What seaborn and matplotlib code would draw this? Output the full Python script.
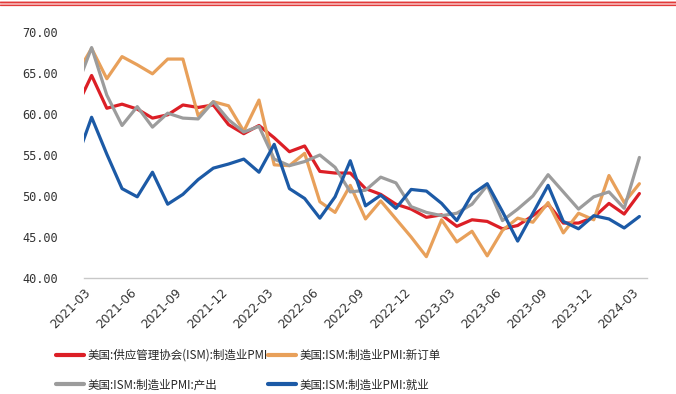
import numpy as np
import pandas as pd
import matplotlib
matplotlib.use("Agg")
import matplotlib.pyplot as plt
from matplotlib.lines import Line2D
from matplotlib.patches import Rectangle
import matplotlib.transforms as mtransforms
import seaborn as sns

# ---- data (monthly, 2021-02 .. 2024-03; 2021-02 is clipped at the left edge) ----
months = pd.period_range("2021-02", "2024-03", freq="M").strftime("%Y-%m").tolist()

pmi = [60.8, 64.7, 60.7, 61.2, 60.6, 59.5, 59.9, 61.1, 60.8, 61.1, 58.7,
       57.6, 58.6, 57.1, 55.4, 56.1, 53.0, 52.8, 52.8, 50.9, 50.2, 49.0, 48.4,
       47.4, 47.7, 46.3, 47.1, 46.9, 46.0, 46.4, 47.6, 49.0, 46.7, 46.7, 47.4,
       49.1, 47.8, 50.3]
new_orders = [64.8, 68.0, 64.3, 67.0, 66.0, 64.9, 66.7, 66.7, 59.8, 61.5, 61.0,
              57.9, 61.7, 53.8, 53.7, 55.2, 49.3, 48.0, 51.3, 47.2, 49.4, 47.2, 45.0,
              42.6, 47.1, 44.4, 45.7, 42.7, 45.8, 47.3, 46.8, 49.2, 45.5, 47.9, 47.1,
              52.5, 49.2, 51.5]
production = [63.2, 68.1, 62.3, 58.6, 60.9, 58.4, 60.1, 59.5, 59.4, 61.5, 59.3,
              57.8, 58.5, 54.5, 53.7, 54.2, 55.0, 53.5, 50.5, 50.7, 52.3, 51.6, 48.7,
              48.0, 47.6, 47.9, 49.0, 51.3, 47.0, 48.4, 50.0, 52.6, 50.5, 48.4, 49.9,
              50.5, 48.5, 54.7]
employment = [54.4, 59.6, 55.1, 50.9, 49.9, 52.9, 49.0, 50.2, 52.0, 53.4, 53.9,
              54.5, 52.9, 56.3, 50.9, 49.7, 47.3, 49.9, 54.3, 48.8, 50.1, 48.5, 50.8,
              50.6, 49.1, 47.0, 50.2, 51.5, 48.1, 44.5, 47.9, 51.3, 46.9, 46.0, 47.6,
              47.2, 46.1, 47.5]

series_names = ["美国:供应管理协会(ISM):制造业PMI",
                "美国:ISM:制造业PMI:新订单",
                "美国:ISM:制造业PMI:产出",
                "美国:ISM:制造业PMI:就业"]
series_values = [pmi, new_orders, production, employment]
colors = ["#dc1f26", "#e8a05a", "#9c9c9c", "#1c5aa6"]

tick_labels = ["2021-03", "2021-06", "2021-09", "2021-12", "2022-03", "2022-06",
               "2022-09", "2022-12", "2023-03", "2023-06", "2023-09", "2023-12",
               "2024-03"]
y_ticks = [40, 45, 50, 55, 60, 65, 70]

# ---- build long table ----
pos = {m: i - 1 for i, m in enumerate(months)}   # 2021-03 -> 0
rows = []
for name, vals in zip(series_names, series_values):
    for m, v in zip(months, vals):
        rows.append({"month": m, "x": pos[m], "value": v, "series": name})
df = pd.DataFrame(rows)

sns.set_theme(style="white")
plt.rcParams["font.family"] = ["Noto Sans CJK SC", "DejaVu Sans"]

W, H = 676, 394
fig = plt.figure(figsize=(W / 100, H / 100), dpi=100)
ax = fig.add_axes([84 / W, 1 - 278 / H, (647 - 84) / W, (278 - 32) / H])

palette = dict(zip(series_names, colors))
sns.lineplot(data=df, x="x", y="value", hue="series", hue_order=series_names,
             palette=palette, linewidth=2.3, ax=ax, legend=False, sort=True)

ax.set_xlim(-0.5, 36.5)
ax.set_ylim(40, 70)
ax.set_xlabel("")
ax.set_ylabel("")

ax.set_xticks([pos[t] - 0.5 for t in tick_labels])
ax.set_xticklabels(tick_labels, rotation=45, ha="right", rotation_mode="anchor",
                   fontsize=8.7, color="#333333", family="DejaVu Sans")
offset = mtransforms.ScaledTranslation(5 / 100, -3 / 100, fig.dpi_scale_trans)
for lbl in ax.get_xticklabels():
    lbl.set_transform(lbl.get_transform() + offset)
ax.set_yticks(y_ticks)
ax.set_yticklabels([f"{v:.2f}" for v in y_ticks], fontsize=8.6, color="#333333",
                   family="DejaVu Sans Mono")
ax.tick_params(axis="y", length=0, pad=19)
ax.tick_params(axis="x", direction="inout", length=5, width=0.8, color="#c8c8c8", pad=3)

for s in ["top", "right", "left"]:
    ax.spines[s].set_visible(False)
ax.spines["bottom"].set_color("#c8c8c8")
ax.spines["bottom"].set_linewidth(1.0)
ax.grid(False)

# legend (column-wise fill: red, gray | orange, blue)
order = [0, 2, 1, 3]
handles = [Line2D([0], [0], color=colors[i], lw=3) for i in order]
labels = [series_names[i] for i in order]
fig.legend(handles, labels, ncol=2, loc="upper left",
           bbox_to_anchor=(56 / W, 1 - 349 / H), frameon=False,
           fontsize=8.3, handlelength=2.4, handletextpad=0.35,
           columnspacing=0.0, labelspacing=1.42, borderpad=0, borderaxespad=0)

# decorative red double line at top
fig.patches.append(Rectangle((0, 1 - 5 / H), 1, 4 / H, transform=fig.transFigure,
                             facecolor="#f5b5b5", edgecolor="none"))
for yy in (1.5, 4.5):
    fig.lines.append(Line2D([0, 1], [1 - yy / H, 1 - yy / H], transform=fig.transFigure,
                            color="#e23a3a", lw=0.9))

fig.savefig("out.png", dpi=100)
